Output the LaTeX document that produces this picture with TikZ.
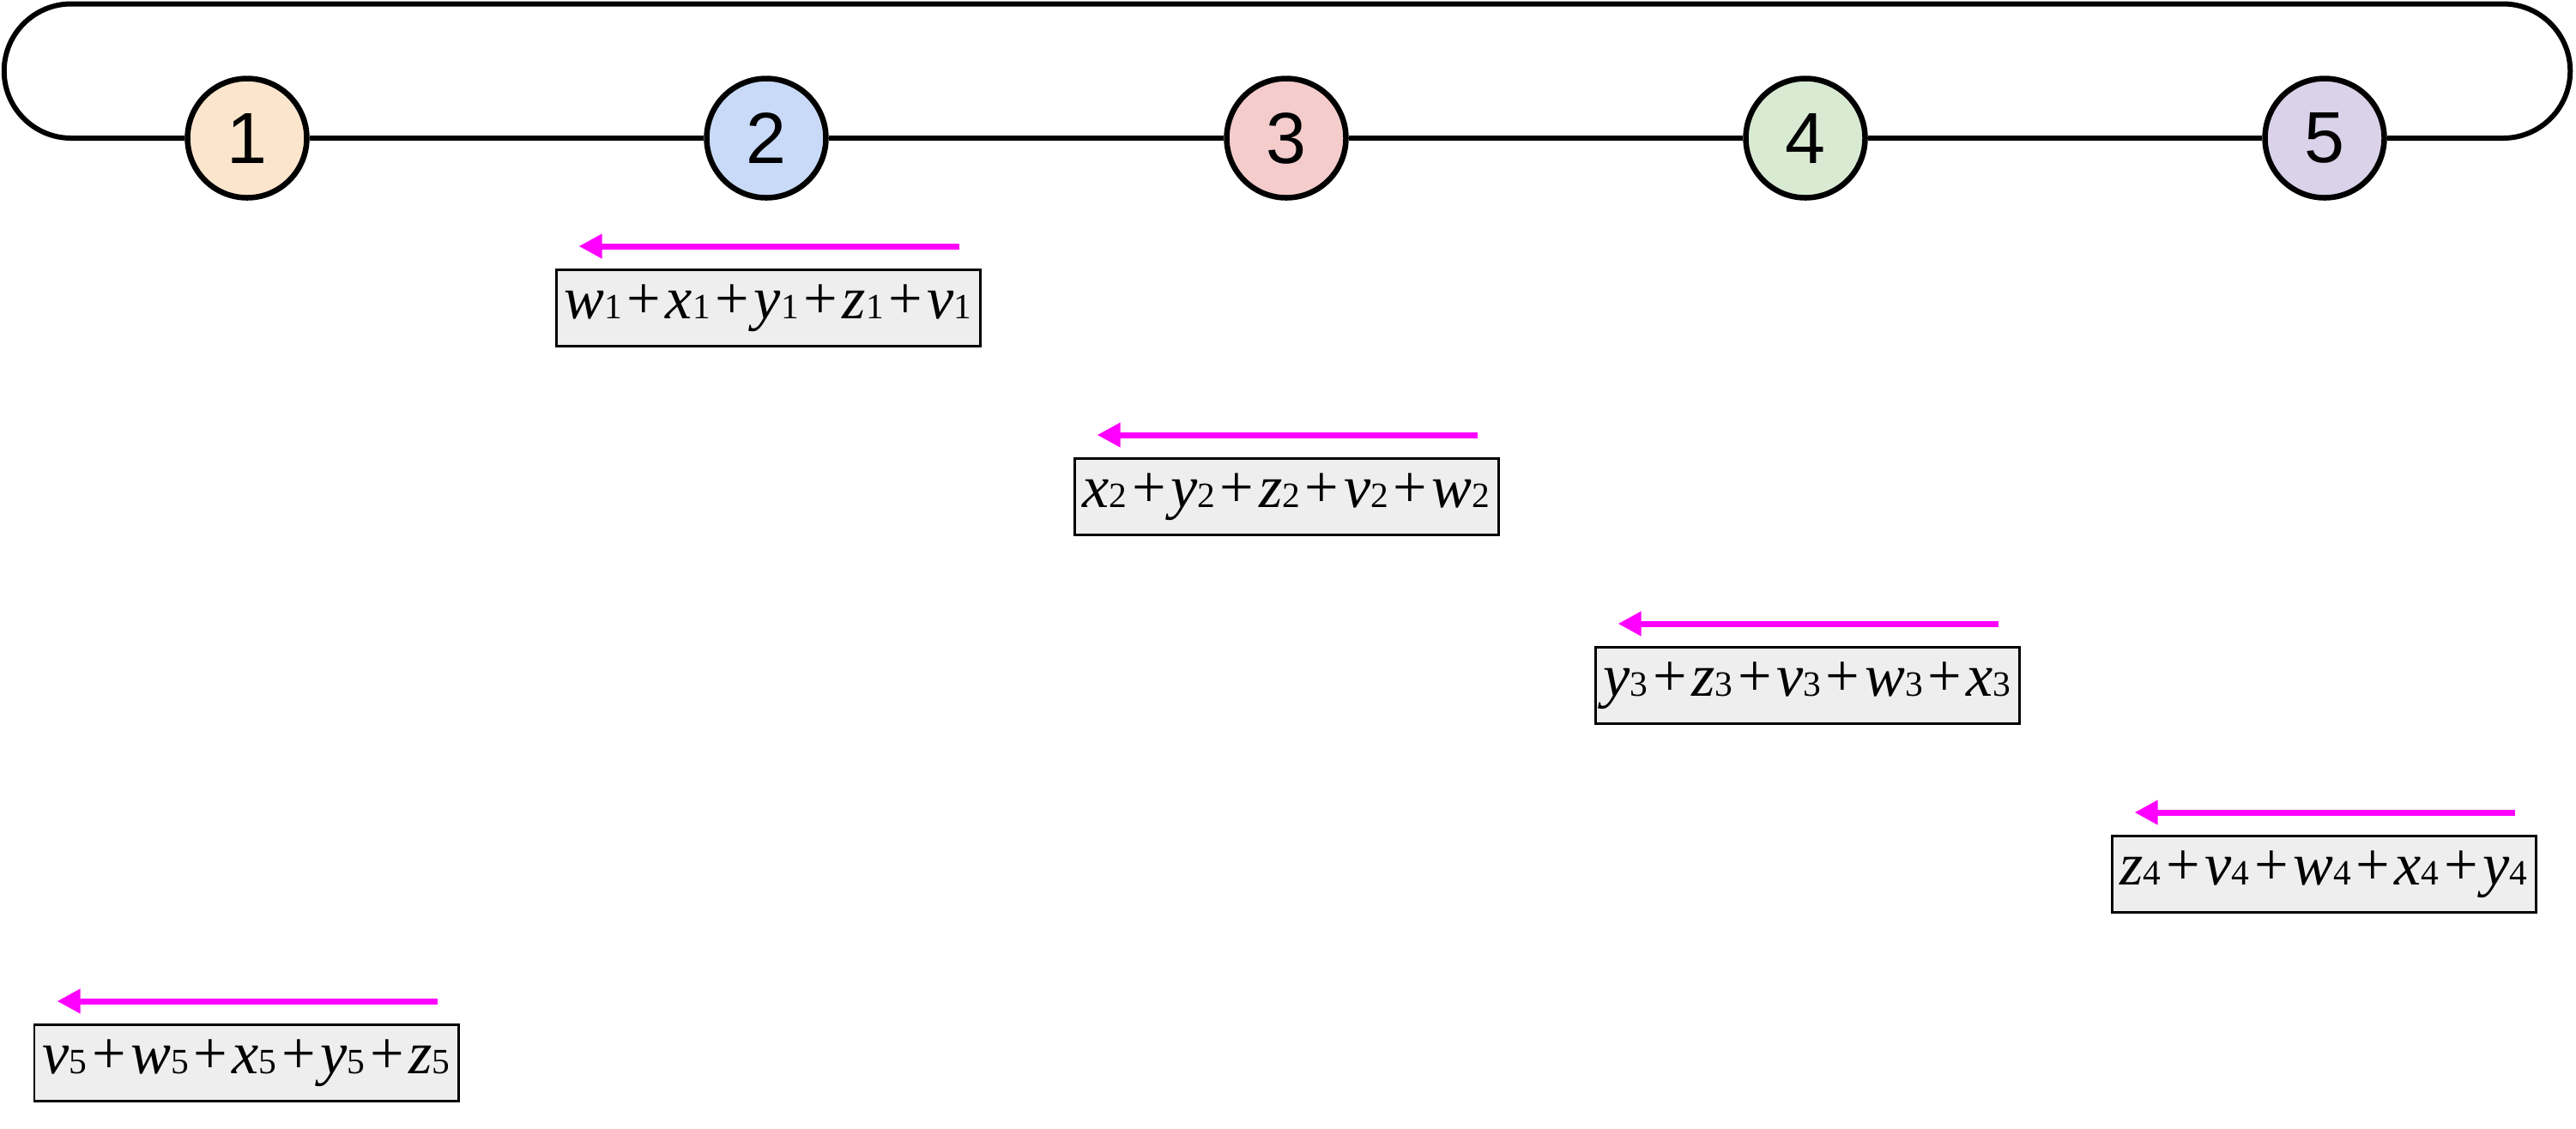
\documentclass[tikz,border=0pt]{standalone}
\usepackage{fontspec}
\setmainfont{Liberation Serif}
\newfontfamily\numfont{Liberation Sans}
\usetikzlibrary{arrows.meta}

\definecolor{peach}{HTML}{FCE5CD}
\definecolor{sky}{HTML}{C9DAF8}
\definecolor{rose}{HTML}{F4CCCC}
\definecolor{mint}{HTML}{D9EAD3}
\definecolor{lilac}{HTML}{D9D2E9}
\definecolor{boxgray}{HTML}{EEEEEE}
\definecolor{flow}{HTML}{FF00FF}

\newcommand{\term}[2]{\textit{#1}{\fontsize{11.8}{12}\selectfont #2}}
\newcommand{\pl}{\kern0.08em+\kern0.08em}

\def\rr{0.7825}

\tikzset{
	rank/.style={circle,draw,line width=1.85pt,minimum size=1.39cm,inner sep=0,font=\numfont\fontsize{24}{28}\selectfont},
	sumbox/.style={rectangle,draw,fill=boxgray,line width=0.85pt,minimum width=4.94cm,minimum height=0.89cm,inner xsep=1pt,font=\fontsize{20}{24}\selectfont},
	send/.style={draw=flow,line width=2pt,-{Triangle[length=0.27cm,width=0.27cm]}}
}

\begin{document}
\begin{tikzpicture}
		\useasboundingbox (0,0) rectangle (30.02,-13.15);
		
		\node (c1) at (2.88,-1.61) [rank,fill=peach]  {1};
		\node (c2) at (8.93,-1.61) [rank,fill=sky]  {2};
		\node (c3) at (14.99,-1.61) [rank,fill=rose]  {3};
		\node (c4) at (21.04,-1.61) [rank,fill=mint]  {4};
		\node (c5) at (27.09,-1.61) [rank,fill=lilac]  {5};
		
		\coordinate (rb) at (29.17,-1.61);
		\coordinate (lt) at (0.83,-0.045);
		
		\draw[line width=1.7pt] (c1) to (c2);
		\draw[line width=1.7pt] (c2) to (c3);
		\draw[line width=1.7pt] (c3) to (c4);
		\draw[line width=1.7pt] (c4) to (c5);
		\draw[line width=1.7pt] (c5) -- (rb) arc[start angle=-90,end angle=90,radius=\rr] -- (lt) arc[start angle=90,end angle=270,radius=\rr] -- (c1);
		
		\node (b1) at (8.95,-3.59) [sumbox]  {\term{w}{1}\pl\term{x}{1}\pl\term{y}{1}\pl\term{z}{1}\pl\term{v}{1}};
		\node (b2) at (14.99,-5.79) [sumbox]  {\term{x}{2}\pl\term{y}{2}\pl\term{z}{2}\pl\term{v}{2}\pl\term{w}{2}};
		\node (b3) at (21.06,-7.99) [sumbox]  {\term{y}{3}\pl\term{z}{3}\pl\term{v}{3}\pl\term{w}{3}\pl\term{x}{3}};
		\node (b4) at (27.08,-10.19) [sumbox]  {\term{z}{4}\pl\term{v}{4}\pl\term{w}{4}\pl\term{x}{4}\pl\term{y}{4}};
		\node (b5) at (2.87,-12.39) [sumbox]  {\term{v}{5}\pl\term{w}{5}\pl\term{x}{5}\pl\term{y}{5}\pl\term{z}{5}};
		
		\draw[send] ([xshift=-0.26cm,yshift=0.26cm]b1.north east) to ([xshift=0.28cm,yshift=0.26cm]b1.north west);
		\draw[send] ([xshift=-0.26cm,yshift=0.26cm]b2.north east) to ([xshift=0.28cm,yshift=0.26cm]b2.north west);
		\draw[send] ([xshift=-0.26cm,yshift=0.26cm]b3.north east) to ([xshift=0.28cm,yshift=0.26cm]b3.north west);
		\draw[send] ([xshift=-0.26cm,yshift=0.26cm]b4.north east) to ([xshift=0.28cm,yshift=0.26cm]b4.north west);
		\draw[send] ([xshift=-0.26cm,yshift=0.26cm]b5.north east) to ([xshift=0.28cm,yshift=0.26cm]b5.north west);

	\end{tikzpicture}
\end{document}
